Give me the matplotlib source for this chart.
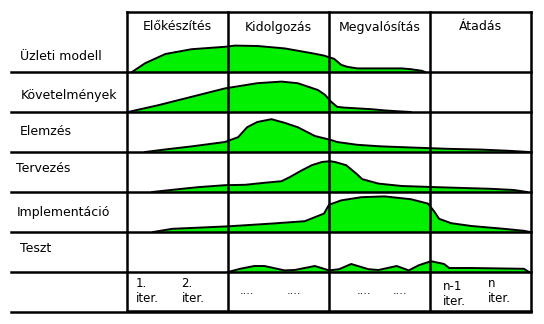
import matplotlib.pyplot as plt

# phases (columns) and workflows (rows)
phases = ['Előkészítés', 'Kidolgozás', 'Megvalósítás', 'Átadás']
workflows = ['Üzleti modell', 'Követelmények', 'Elemzés',
             'Tervezés', 'Implementáció', 'Teszt']

# hump profiles: x in phase units (0..4), height as fraction of row
uzleti_x = [0.05, 0.18, 0.38, 0.64, 0.97, 1.07, 1.29, 1.56, 1.83, 1.95,
            2.05, 2.12, 2.18, 2.28, 2.72, 2.81, 2.92, 2.95]
uzleti_h = [0.0, 0.22, 0.45, 0.57, 0.63, 0.66, 0.65, 0.59, 0.47, 0.41,
            0.33, 0.18, 0.13, 0.09, 0.09, 0.07, 0.03, 0.0]

kovet_x = [0.01, 0.31, 0.64, 0.97, 1.29, 1.53, 1.69, 1.89, 1.96, 2.02,
           2.08, 2.15, 2.42, 2.55, 2.67, 2.81]
kovet_h = [0.0, 0.17, 0.38, 0.59, 0.72, 0.76, 0.72, 0.55, 0.43, 0.26,
           0.13, 0.11, 0.07, 0.04, 0.02, 0.0]

elemzes_x = [0.18, 0.40, 0.64, 0.97, 1.10, 1.19, 1.29, 1.43, 1.56, 1.69,
             1.86, 2.02, 2.08, 2.28, 2.52, 2.84, 3.17, 3.51, 3.78, 3.98]
elemzes_h = [0.0, 0.07, 0.14, 0.25, 0.37, 0.62, 0.75, 0.82, 0.73, 0.62,
             0.40, 0.30, 0.25, 0.18, 0.14, 0.11, 0.08, 0.06, 0.03, 0.0]

terv_x = [0.25, 0.47, 0.70, 0.97, 1.17, 1.36, 1.53, 1.61, 1.73, 1.83,
          1.93, 2.01, 2.06, 2.17, 2.27, 2.33, 2.49, 2.72, 3.07, 3.60,
          3.83, 3.96]
terv_h = [0.0, 0.06, 0.12, 0.17, 0.18, 0.23, 0.27, 0.37, 0.54, 0.67,
          0.75, 0.77, 0.75, 0.67, 0.46, 0.32, 0.21, 0.15, 0.12, 0.08,
          0.05, 0.0]

impl_x = [0.26, 0.45, 0.99, 1.43, 1.76, 1.95, 2.00, 2.12, 2.32, 2.55,
          2.81, 2.98, 3.04, 3.09, 3.21, 3.41, 3.73, 3.93, 3.99]
impl_h = [0.0, 0.08, 0.14, 0.21, 0.27, 0.46, 0.68, 0.79, 0.87, 0.89,
          0.82, 0.71, 0.52, 0.33, 0.22, 0.15, 0.08, 0.03, 0.0]

teszt_x = [1.00, 1.12, 1.26, 1.36, 1.56, 1.66, 1.86, 2.00, 2.10, 2.22,
           2.39, 2.49, 2.67, 2.79, 2.89, 3.01, 3.14, 3.19, 3.41, 3.93,
           3.98]
teszt_h = [0.0, 0.08, 0.15, 0.15, 0.04, 0.05, 0.15, 0.04, 0.07, 0.20,
           0.07, 0.05, 0.15, 0.04, 0.17, 0.27, 0.20, 0.10, 0.10, 0.08,
           0.0]

curves = [(uzleti_x, uzleti_h), (kovet_x, kovet_h), (elemzes_x, elemzes_h),
          (terv_x, terv_h), (impl_x, impl_h), (teszt_x, teszt_h)]

# iteration labels in the bottom row: (x, y px, text)
iter_labels = [(0.09, 291, '1.\niter.'), (0.54, 291, '2.\niter.'),
               (3.13, 294, 'n-1\niter.'), (3.57, 291, 'n\niter.')]
dots = [1.19, 1.65, 2.35, 2.70]

# ------------------------------ layout ------------------------------ #
W = 101.0            # phase width in px
X0 = 127.0           # left edge of grid in px
ROW = 40.0           # row height in px

fig = plt.figure(figsize=(5.44, 3.24), dpi=100)
ax = fig.add_axes([0, 0, 1, 1])
ax.set_xlim(-X0 / W, (544 - X0) / W)
ax.set_ylim(324 / ROW, 0)
ax.axis('off')

lw = 1.8
top = 12 / ROW
bottom = 311 / ROW
base = [(72 + ROW * i) / ROW for i in range(7)]   # row bottoms

# humps
for i, (xs, hs) in enumerate(curves):
    b = base[i]
    ys = [b - h for h in hs]
    ax.fill_between(xs, ys, b, color='#00f000', lw=0, zorder=2)
    ax.plot(xs, ys, color='black', lw=1.4, zorder=3)

# grid
for k in range(5):
    ax.plot([k, k], [top, bottom], color='black', lw=lw, zorder=4,
            solid_capstyle='projecting')
ax.plot([0, 4], [top, top], color='black', lw=lw, zorder=4,
        solid_capstyle='projecting')
ax.plot([0, 4], [bottom, bottom], color='black', lw=lw, zorder=4,
        solid_capstyle='projecting')
left = (11 - X0) / W
for b in base:
    ax.plot([left, 4], [b, b], color='black', lw=lw, zorder=4,
            solid_capstyle='projecting')

# texts
for k, p in enumerate(phases):
    ax.text(k + 0.5, 27 / ROW, p, ha='center', va='center', fontsize=9)

label_x = [20.5, 20.5, 19.5, 16.5, 16.5, 20.5]
label_y = [57, 95, 131.5, 168.5, 212.5, 249]
for name, lx, ly in zip(workflows, label_x, label_y):
    ax.text((lx - X0) / W, ly / ROW, name, ha='left', va='center',
            fontsize=9)

for x, y, t in iter_labels:
    ax.text(x, y / ROW, t, ha='left', va='center', fontsize=8.5,
            linespacing=1.2)
for x in dots:
    ax.text(x, 291 / ROW, '....', ha='center', va='center', fontsize=8)

fig.savefig('out.png', dpi=100)
